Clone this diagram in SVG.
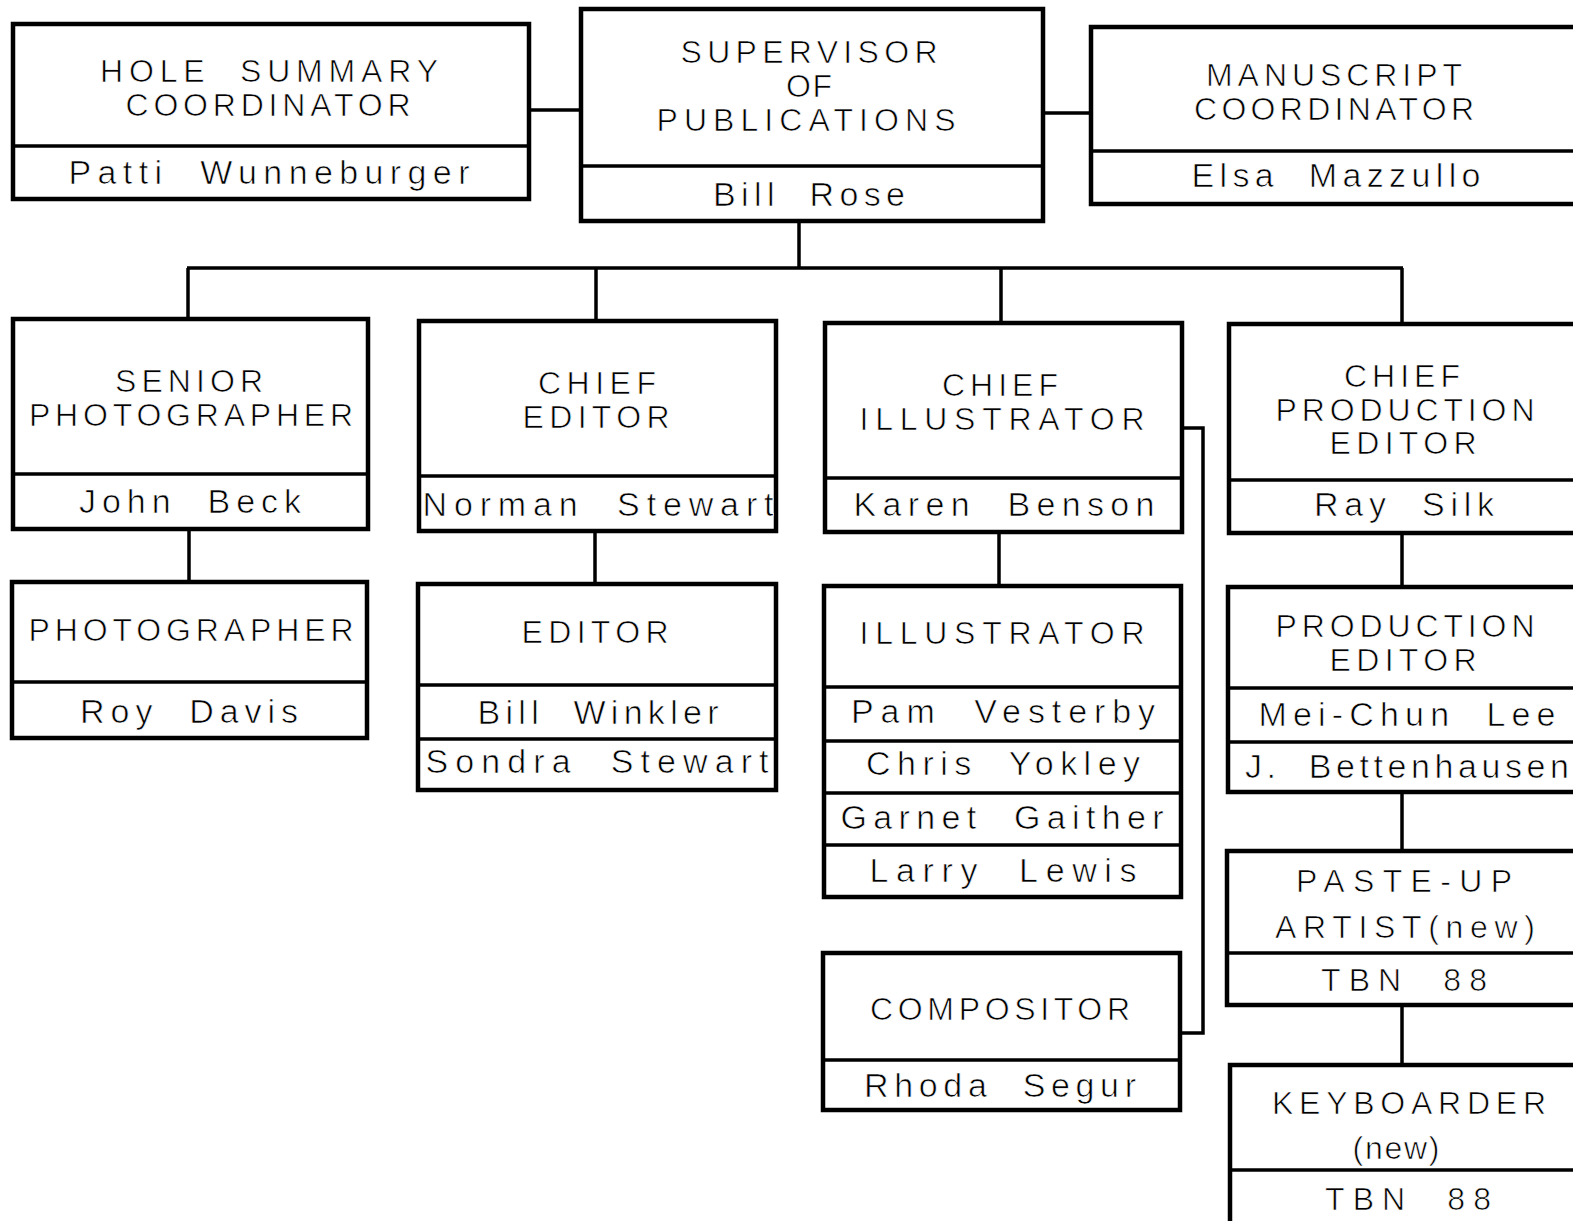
<svg xmlns="http://www.w3.org/2000/svg" width="1573" height="1221" viewBox="0 0 1573 1221" xml:space="preserve">
<style>
.box{fill:#fff;stroke:#000;stroke-width:4.5}
.div{stroke:#000;stroke-width:3.5;fill:none}
.conn{stroke:#000;stroke-width:3.5;fill:none}
text{font-family:"Liberation Sans",Arial,sans-serif;font-size:32px;fill:#000;text-anchor:middle;white-space:pre;stroke:#fff;stroke-width:0.7}
text.n{font-size:34px}
</style>
<rect width="1573" height="1221" fill="#fff"/>
<g id="connectors">
<line class="conn" x1="529" y1="110" x2="581" y2="110"/>
<line class="conn" x1="1043" y1="113" x2="1091" y2="113"/>
<line class="conn" x1="799" y1="221" x2="799" y2="268"/>
<line class="conn" x1="187" y1="268" x2="1403" y2="268"/>
<line class="conn" x1="188" y1="268" x2="188" y2="319"/>
<line class="conn" x1="596" y1="268" x2="596" y2="321"/>
<line class="conn" x1="1001" y1="268" x2="1001" y2="323"/>
<line class="conn" x1="1402" y1="268" x2="1402" y2="324"/>
<line class="conn" x1="189" y1="529" x2="189" y2="582"/>
<line class="conn" x1="595" y1="531" x2="595" y2="584"/>
<line class="conn" x1="999" y1="532" x2="999" y2="586"/>
<line class="conn" x1="1402" y1="533" x2="1402" y2="587"/>
<line class="conn" x1="1402" y1="792" x2="1402" y2="851"/>
<line class="conn" x1="1402" y1="1005" x2="1402" y2="1065"/>
<path class="conn" d="M1182 428 H1203 V1033 H1180"/>
</g>
<g id="hole-summary">
<rect class="box" x="13" y="24" width="516" height="175"/>
<line class="div" x1="13" y1="146" x2="529" y2="146"/>
<text x="269" y="82" textLength="338" lengthAdjust="spacing">HOLE  SUMMARY</text>
<text x="268" y="116" textLength="285" lengthAdjust="spacing">COORDINATOR</text>
<text class="n" x="269" y="184" textLength="401" lengthAdjust="spacing">Patti  Wunneburger</text>
</g>
<g id="supervisor">
<rect class="box" x="581" y="9" width="462" height="212"/>
<line class="div" x1="581" y1="166" x2="1043" y2="166"/>
<text x="809" y="63" textLength="257" lengthAdjust="spacing">SUPERVISOR</text>
<text x="809" y="97" textLength="46" lengthAdjust="spacing">OF</text>
<text x="806" y="131" textLength="299" lengthAdjust="spacing">PUBLICATIONS</text>
<text class="n" x="809" y="206" textLength="192" lengthAdjust="spacing">Bill  Rose</text>
</g>
<g id="manuscript">
<rect class="box" x="1091" y="27" width="520" height="177"/>
<line class="div" x1="1091" y1="151" x2="1611" y2="151"/>
<text x="1334" y="86" textLength="256" lengthAdjust="spacing">MANUSCRIPT</text>
<text x="1334" y="120" textLength="280" lengthAdjust="spacing">COORDINATOR</text>
<text class="n" x="1336" y="187" textLength="289" lengthAdjust="spacing">Elsa  Mazzullo</text>
</g>
<g id="senior-photographer">
<rect class="box" x="13" y="319" width="355" height="210"/>
<line class="div" x1="13" y1="474" x2="368" y2="474"/>
<text x="189" y="392" textLength="148" lengthAdjust="spacing">SENIOR</text>
<text x="191" y="426" textLength="324" lengthAdjust="spacing">PHOTOGRAPHER</text>
<text class="n" x="190" y="513" textLength="222" lengthAdjust="spacing">John  Beck</text>
</g>
<g id="chief-editor">
<rect class="box" x="419" y="321" width="357" height="210"/>
<line class="div" x1="419" y1="476" x2="776" y2="476"/>
<text x="597" y="394" textLength="118" lengthAdjust="spacing">CHIEF</text>
<text x="596" y="428" textLength="147" lengthAdjust="spacing">EDITOR</text>
<text class="n" x="598" y="516" textLength="351" lengthAdjust="spacing">Norman  Stewart</text>
</g>
<g id="chief-illustrator">
<rect class="box" x="825" y="323" width="357" height="209"/>
<line class="div" x1="825" y1="478" x2="1182" y2="478"/>
<text x="1000" y="396" textLength="116" lengthAdjust="spacing">CHIEF</text>
<text x="1002" y="430" textLength="285" lengthAdjust="spacing">ILLUSTRATOR</text>
<text class="n" x="1004" y="516" textLength="301" lengthAdjust="spacing">Karen  Benson</text>
</g>
<g id="chief-production-editor">
<rect class="box" x="1229" y="324" width="380" height="209"/>
<line class="div" x1="1229" y1="480" x2="1609" y2="480"/>
<text x="1402" y="387" textLength="116" lengthAdjust="spacing">CHIEF</text>
<text x="1405" y="421" textLength="259" lengthAdjust="spacing">PRODUCTION</text>
<text x="1403" y="454" textLength="147" lengthAdjust="spacing">EDITOR</text>
<text class="n" x="1404" y="516" textLength="180" lengthAdjust="spacing">Ray  Silk</text>
</g>
<g id="photographer">
<rect class="box" x="12" y="582" width="355" height="156"/>
<line class="div" x1="12" y1="682" x2="367" y2="682"/>
<text x="191" y="641" textLength="325" lengthAdjust="spacing">PHOTOGRAPHER</text>
<text class="n" x="189" y="723" textLength="218" lengthAdjust="spacing">Roy  Davis</text>
</g>
<g id="editor">
<rect class="box" x="418" y="584" width="358" height="206"/>
<line class="div" x1="418" y1="685" x2="776" y2="685"/>
<line class="div" x1="418" y1="739" x2="776" y2="739"/>
<text x="595" y="643" textLength="147" lengthAdjust="spacing">EDITOR</text>
<text class="n" x="598" y="724" textLength="241" lengthAdjust="spacing">Bill  Winkler</text>
<text class="n" x="597" y="773" textLength="343" lengthAdjust="spacing">Sondra  Stewart</text>
</g>
<g id="illustrator">
<rect class="box" x="824" y="586" width="357" height="311"/>
<line class="div" x1="824" y1="687" x2="1181" y2="687"/>
<line class="div" x1="824" y1="741" x2="1181" y2="741"/>
<line class="div" x1="824" y1="793" x2="1181" y2="793"/>
<line class="div" x1="824" y1="845" x2="1181" y2="845"/>
<text x="1002" y="644" textLength="285" lengthAdjust="spacing">ILLUSTRATOR</text>
<text class="n" x="1003" y="723" textLength="304" lengthAdjust="spacing">Pam  Vesterby</text>
<text class="n" x="1003" y="775" textLength="274" lengthAdjust="spacing">Chris  Yokley</text>
<text class="n" x="1002" y="829" textLength="323" lengthAdjust="spacing">Garnet  Gaither</text>
<text class="n" x="1003" y="882" textLength="267" lengthAdjust="spacing">Larry  Lewis</text>
</g>
<g id="production-editor">
<rect class="box" x="1228" y="587" width="380" height="205"/>
<line class="div" x1="1228" y1="688" x2="1608" y2="688"/>
<line class="div" x1="1228" y1="742" x2="1608" y2="742"/>
<text x="1405" y="637" textLength="259" lengthAdjust="spacing">PRODUCTION</text>
<text x="1403" y="671" textLength="147" lengthAdjust="spacing">EDITOR</text>
<text class="n" x="1407" y="726" textLength="297" lengthAdjust="spacing">Mei-Chun  Lee</text>
<text class="n" x="1407" y="778" textLength="324" lengthAdjust="spacing">J.  Bettenhausen</text>
</g>
<g id="paste-up-artist">
<rect class="box" x="1227" y="851" width="380" height="154"/>
<line class="div" x1="1227" y1="953" x2="1607" y2="953"/>
<text x="1404" y="892" textLength="216" lengthAdjust="spacing">PASTE-UP</text>
<text x="1405" y="938" textLength="260" lengthAdjust="spacing">ARTIST(new)</text>
<text x="1404" y="991" textLength="166" lengthAdjust="spacing">TBN  88</text>
</g>
<g id="compositor">
<rect class="box" x="823" y="953" width="357" height="157"/>
<line class="div" x1="823" y1="1060" x2="1180" y2="1060"/>
<text x="1000" y="1020" textLength="260" lengthAdjust="spacing">COMPOSITOR</text>
<text class="n" x="1000" y="1097" textLength="272" lengthAdjust="spacing">Rhoda  Segur</text>
</g>
<g id="keyboarder">
<rect class="box" x="1230" y="1065" width="380" height="180"/>
<line class="div" x1="1230" y1="1170" x2="1610" y2="1170"/>
<text x="1409" y="1114" textLength="274" lengthAdjust="spacing">KEYBOARDER</text>
<text x="1396" y="1159" textLength="87" lengthAdjust="spacing">(new)</text>
<text x="1408" y="1210" textLength="166" lengthAdjust="spacing">TBN  88</text>
</g>
</svg>
